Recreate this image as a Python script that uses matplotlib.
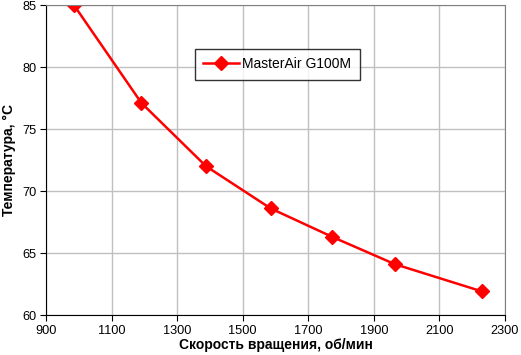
import matplotlib
matplotlib.use("Agg")
import matplotlib.pyplot as plt

# fan speed (rpm) vs temperature (C)
rpm = [985, 1191, 1388, 1585, 1773, 1964, 2230]
temp = [85.0, 77.1, 72.0, 68.6, 66.3, 64.1, 61.9]
series_name = "MasterAir G100M"
x_ticks = [900, 1100, 1300, 1500, 1700, 1900, 2100, 2300]
y_ticks = [60, 65, 70, 75, 80, 85]

plt.rcParams['font.family'] = ['Liberation Sans', 'DejaVu Sans']

fig = plt.figure(figsize=(5.21, 3.55), dpi=100)
ax = fig.add_axes([46 / 521, 40 / 355, 459 / 521, 310 / 355])

ax.plot(rpm, temp, color='red', lw=1.8, marker='D', ms=7, label=series_name)

ax.set_xlim(900, 2300)
ax.set_ylim(60, 85)
ax.set_xticks(x_ticks)
ax.set_yticks(y_ticks)
ax.grid(True, color='#c0c0c0', lw=1)
ax.set_axisbelow(True)

for s in ['top', 'right']:
    ax.spines[s].set_color('#808080')
for s in ['left', 'bottom']:
    ax.spines[s].set_color('black')
ax.tick_params(direction='out', length=4, labelsize=9.2, pad=3)

ax.set_xlabel('Скорость вращения, об/мин', fontsize=10, fontweight='bold', labelpad=1)
ax.set_ylabel('Температура, °C', fontsize=10, fontweight='bold', labelpad=4)

leg = ax.legend(loc='upper left', bbox_to_anchor=((195 - 46) / 459, (315 - 49) / 310),
                fontsize=10, frameon=True, fancybox=False, borderpad=0.6,
                borderaxespad=0, handlelength=2.6, handletextpad=0.2)
leg.get_frame().set_edgecolor('black')
leg.get_frame().set_linewidth(1)

fig.savefig('out.png', dpi=100)
